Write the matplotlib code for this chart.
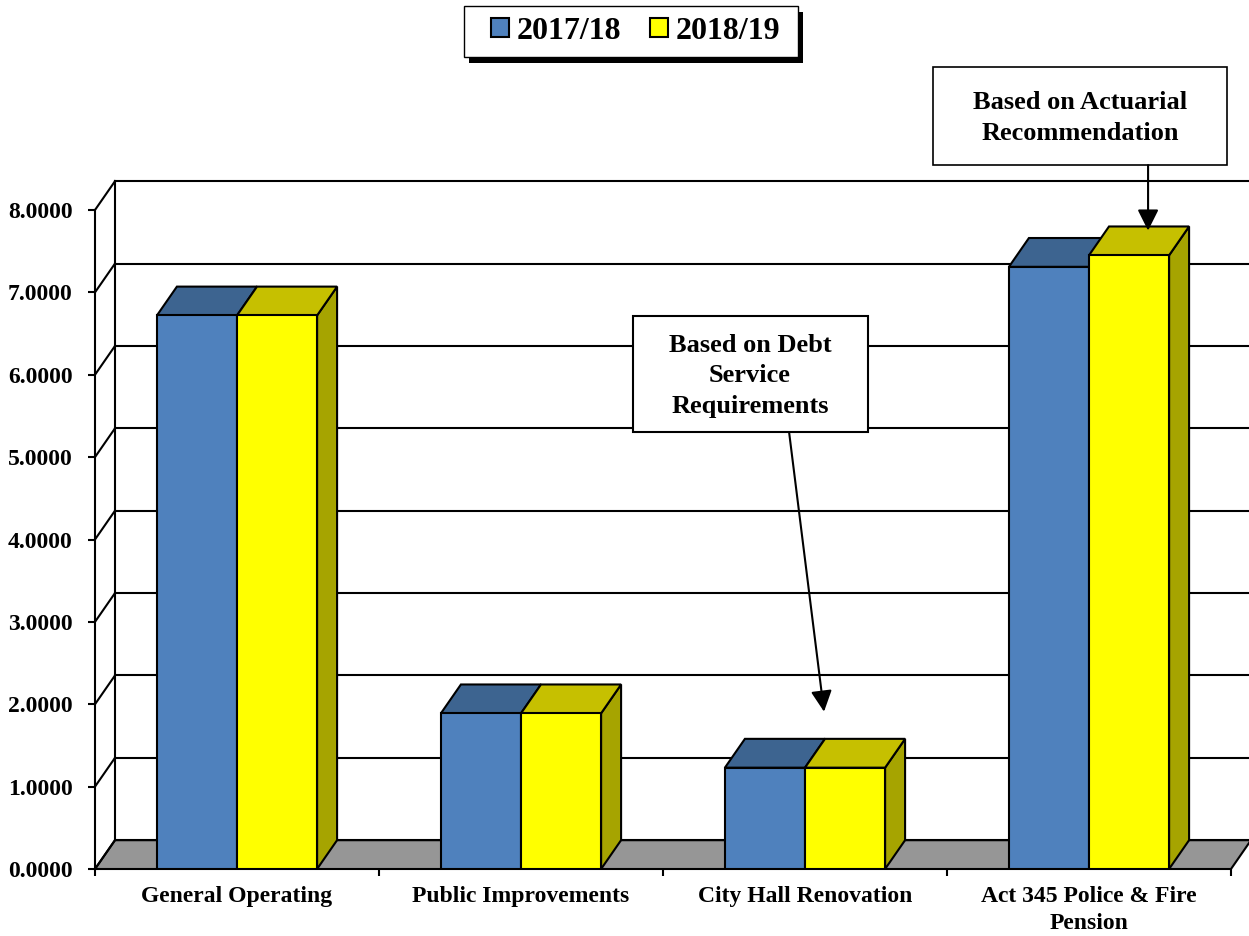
import matplotlib
matplotlib.use('Agg')
import matplotlib.pyplot as plt
from matplotlib.patches import Polygon, Rectangle, Patch
import numpy as np

plt.rcParams['font.family'] = ['Liberation Serif', 'DejaVu Serif']
plt.rcParams['font.weight'] = 'bold'

# Data
categories = ['General Operating', 'Public Improvements', 'City Hall Renovation',
              'Act 345 Police & Fire\nPension']
series_names = ['2017/18', '2018/19']
rate_2017 = [6.72, 1.89, 1.23, 7.31]
rate_2018 = [6.72, 1.89, 1.23, 7.45]
y_ticks = [0, 1, 2, 3, 4, 5, 6, 7, 8]

# Colours (front, top, side)
blue = ('#4F81BD', '#3D6490', '#2F4D73')
yellow = ('#FFFF00', '#C6C000', '#A6A400')
floor_color = '#969696'

W, H = 1249, 936
fig = plt.figure(figsize=(W / 100, H / 100), dpi=100)
# front plane: x 0..4 -> px 95..1231, y 0..8 -> px 869..210
ax = fig.add_axes([95 / W, (H - 869) / H, 1136 / W, 659 / H])
ax.set_xlim(0, 4)
ax.set_ylim(0, 8)

# 3D depth offsets in data units
dx = 20 / 284
dy = 0.35
lw = 1.5

# floor
ax.add_patch(Polygon([(0, 0), (4, 0), (4 + dx, dy), (dx, dy)], closed=True,
                     facecolor=floor_color, edgecolor='black', lw=lw,
                     clip_on=False, zorder=1))
# back wall left edge and gridlines, left wall diagonals
ax.plot([dx, dx], [dy, 8 + dy], color='black', lw=lw, clip_on=False, zorder=1.5)
for v in y_ticks:
    ax.plot([dx, 4 + dx + 0.05], [v + dy, v + dy], color='black', lw=lw,
            clip_on=False, zorder=1.5)
    ax.plot([0, dx], [v, v + dy], color='black', lw=lw, clip_on=False, zorder=1.5)

# bars
x = np.arange(len(categories)) + 0.5
bw = 0.282
zo = 3
for vals, off, cols in [(rate_2017, -bw / 2, blue), (rate_2018, bw / 2, yellow)]:
    bars = ax.bar(x + off, vals, width=bw, color=cols[0], edgecolor='black',
                  lw=lw, zorder=zo + 0.2)
    for b in bars:
        x0, x1, h = b.get_x(), b.get_x() + b.get_width(), b.get_height()
        ax.add_patch(Polygon([(x1, 0), (x1 + dx, dy), (x1 + dx, h + dy), (x1, h)],
                             closed=True, facecolor=cols[2], edgecolor='black',
                             lw=lw, zorder=zo, clip_on=False))
        ax.add_patch(Polygon([(x0, h), (x1, h), (x1 + dx, h + dy), (x0 + dx, h + dy)],
                             closed=True, facecolor=cols[1], edgecolor='black',
                             lw=lw, zorder=zo + 0.1, clip_on=False))
    zo += 1

# axes styling
for s in ['top', 'right', 'bottom']:
    ax.spines[s].set_visible(False)
ax.spines['left'].set_linewidth(lw)
ax.spines['left'].set_zorder(1.6)
ax.set_yticks(y_ticks)
ax.set_yticklabels([f'{v:.4f}' for v in y_ticks])
ax.tick_params(axis='y', length=5, width=lw, pad=11, labelsize=17)
ax.set_xticks(np.arange(len(categories) + 1))
ax.set_xticklabels([])
ax.tick_params(axis='x', which='major', length=5, width=lw)
ax.set_xticks(x, minor=True)
ax.set_xticklabels(categories, minor=True, fontsize=17, fontweight='bold',
                   linespacing=1.4)
ax.tick_params(axis='x', which='minor', length=0, pad=12)
ax.patch.set_visible(False)

# annotation: debt service
ch_top = rate_2018[2] + dy
ax.add_patch(Rectangle((1.894, 5.303), 0.828, 1.408, facecolor='white',
                       edgecolor='black', lw=lw, zorder=6, clip_on=False))
ax.text(2.306, 5.99, 'Based on Debt\nService\nRequirements', ha='center',
        va='center', fontsize=19, fontweight='bold', linespacing=1.42,
        zorder=7)
ax.annotate('', xy=(2.567, ch_top + 0.33), xytext=(2.444, 5.303),
            arrowprops=dict(arrowstyle='-|>', color='black', lw=lw,
                            mutation_scale=32, shrinkA=0, shrinkB=0),
            zorder=7, annotation_clip=False)

# annotation: actuarial
act_top = rate_2018[3] + dy
ax.add_patch(Rectangle((2.951, 8.544), 1.035, 1.189, facecolor='white',
                       edgecolor='black', lw=lw * 0.8, zorder=6, clip_on=False))
ax.text(3.468, 9.12, 'Based on Actuarial\nRecommendation', ha='center',
        va='center', fontsize=19, fontweight='bold', linespacing=1.42,
        zorder=7)
ax.annotate('', xy=(3.708, act_top - 0.05), xytext=(3.708, 8.544),
            arrowprops=dict(arrowstyle='-|>', color='black', lw=lw,
                            mutation_scale=32, shrinkA=0, shrinkB=0),
            zorder=7, annotation_clip=False)

# legend with custom frame and solid shadow
handles = [Patch(facecolor=blue[0], edgecolor='black', lw=lw),
           Patch(facecolor=yellow[0], edgecolor='black', lw=lw)]
leg = fig.legend(handles, series_names, ncol=2, loc='center',
                 bbox_to_anchor=(636 / W, 1 - 31.5 / H),
                 prop={'size': 23, 'weight': 'bold'}, frameon=False,
                 handlelength=0.55, handleheight=0.55, handletextpad=0.25,
                 columnspacing=0.9, borderpad=0.3, borderaxespad=0)
fig.canvas.draw()
bb = leg.get_window_extent()
fx0, fx1 = bb.x0 - 18, bb.x1 + 8
fy0, fy1 = bb.y0 - 1, bb.y1 + 1
frame = Rectangle((fx0 / W, fy0 / H), (fx1 - fx0) / W, (fy1 - fy0) / H,
                  transform=fig.transFigure, facecolor='white', edgecolor='black',
                  lw=1.0, zorder=leg.get_zorder() - 0.1)
shadow = Rectangle(((fx0 + 5) / W, (fy0 - 6) / H), (fx1 - fx0) / W, (fy1 - fy0) / H,
                   transform=fig.transFigure, facecolor='black', edgecolor='none',
                   zorder=leg.get_zorder() - 0.2)
fig.add_artist(shadow)
fig.add_artist(frame)

fig.savefig('out.png', dpi=100)
